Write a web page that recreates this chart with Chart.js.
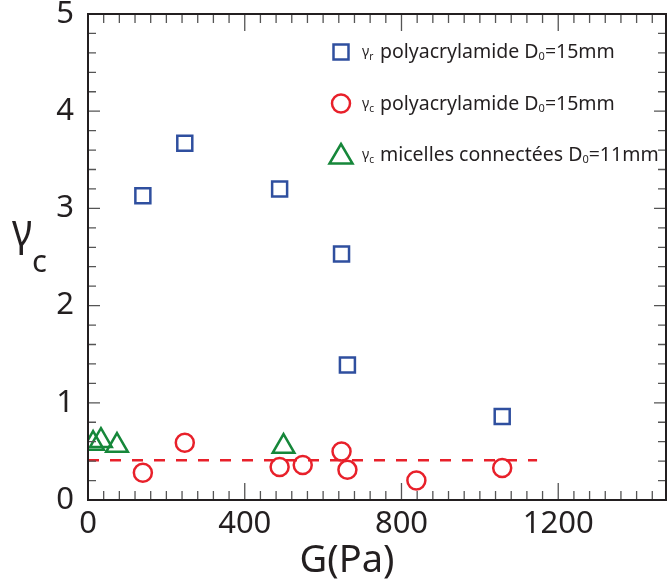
<!DOCTYPE html>
<html>
<head>
<meta charset="utf-8">
<script src="https://cdn.jsdelivr.net/npm/chart.js@4.4.0/dist/chart.umd.min.js"></script>
<style>
  html, body { margin: 0; padding: 0; background: #fff; }
  #wrap { width: 667px; height: 584px; }
</style>
</head>
<body>
<div id="wrap"><canvas id="chart" width="667" height="584"></canvas></div>
<script>
// data
const gRupture = [140, 247, 489, 647, 662, 1057];
const gammaRupture = [3.13, 3.67, 3.20, 2.53, 1.39, 0.86];

const gPolyCrit = [140, 247, 489, 548, 647, 662, 838, 1057];
const gammaPolyCrit = [0.28, 0.59, 0.34, 0.36, 0.50, 0.31, 0.20, 0.33];

const gMicelles = [13, 33, 74, 499];
const gammaMicelles = [0.58, 0.61, 0.56, 0.55];

const meanLineG = [0, 1146];
const meanLineGamma = [0.41, 0.41];

const xTicks = [0, 400, 800, 1200];
const yTicks = [0, 1, 2, 3, 4, 5];

const legendRows = [
  { sym: 'r', text: 'polyacrylamide D', sub: '0', tail: '=15mm', style: 'rect', color: '#2f4f9f' },
  { sym: 'c', text: 'polyacrylamide D', sub: '0', tail: '=15mm', style: 'circle', color: '#e8202a' },
  { sym: 'c', text: 'micelles connectées D', sub: '0', tail: '=11mm', style: 'triangle', color: '#16873a' }
];

const BLUE = '#2f4f9f', RED = '#e8202a', GREEN = '#16873a', INK = '#231f20';
const FONT = '"Noto Sans", "Open Sans", sans-serif';

function pts(xs, ys) {
  return xs.map((x, i) => ({ x: x, y: ys[i] }));
}

function noPad(scale) {
  scale.paddingLeft = 0;
  scale.paddingRight = 0;
  scale.paddingTop = 0;
  scale.paddingBottom = 0;
}

// frame with inward ticks on all four sides + extra labels
const framePlugin = {
  id: 'frame',
  afterDraw(chart) {
    const ctx = chart.ctx;
    const a = chart.chartArea;
    const xs = chart.scales.x, ys = chart.scales.y;
    ctx.save();
    ctx.strokeStyle = '#555';
    ctx.lineWidth = 1.3;
    ctx.beginPath();
    for (let v = 0; v <= xs.max; v += 40) {
      const px = xs.getPixelForValue(v);
      const len = v % 400 === 0 ? 17 : 9;
      ctx.moveTo(px, a.bottom); ctx.lineTo(px, a.bottom - len);
      ctx.moveTo(px, a.top); ctx.lineTo(px, a.top + len);
    }
    for (let k = 0; k <= 25; k++) {
      const v = k * 0.2;
      const py = ys.getPixelForValue(v);
      const len = k % 5 === 0 ? 12 : 8;
      ctx.moveTo(a.left, py); ctx.lineTo(a.left + len, py);
      ctx.moveTo(a.right, py); ctx.lineTo(a.right - len, py);
    }
    ctx.stroke();
    ctx.strokeStyle = INK;
    ctx.lineWidth = 2;
    ctx.strokeRect(a.left, a.top, a.right - a.left, a.bottom - a.top);

    // axis titles
    ctx.fillStyle = INK;
    ctx.textBaseline = 'alphabetic';
    ctx.textAlign = 'left';
    ctx.save();
    ctx.translate(12, 246);
    ctx.scale(0.85, 1);
    ctx.font = '46px ' + FONT;
    ctx.fillText('γ', 0, 0);
    ctx.restore();
    ctx.font = '31px ' + FONT;
    ctx.fillText('c', 32, 272);
    ctx.font = '38px ' + FONT;
    ctx.textAlign = 'center';
    ctx.fillText('G(Pa)', 347, 572);

    // legend
    legendRows.forEach((row, i) => {
      const cy = 52 + i * 51.5;
      const cx = 341;
      ctx.strokeStyle = row.color;
      ctx.lineWidth = 2.5;
      ctx.beginPath();
      if (row.style === 'rect') {
        ctx.rect(cx - 7.5, cy - 7.5, 15, 15);
      } else if (row.style === 'circle') {
        ctx.arc(cx, cy, 9, 0, Math.PI * 2);
      } else {
        ctx.moveTo(cx, cy - 11);
        ctx.lineTo(cx + 11.5, cy + 8.5);
        ctx.lineTo(cx - 11.5, cy + 8.5);
        ctx.closePath();
      }
      ctx.stroke();

      ctx.fillStyle = INK;
      ctx.textAlign = 'left';
      let tx = 362;
      const base = cy + 6;
      ctx.font = '14px ' + FONT;
      ctx.fillText('γ', tx, base - 2);
      tx += ctx.measureText('γ').width;
      ctx.font = '10px ' + FONT;
      ctx.fillText(row.sym, tx, base + 2);
      tx = 380;
      ctx.font = '19.5px ' + FONT;
      ctx.fillText(row.text, tx, base);
      tx += ctx.measureText(row.text).width;
      ctx.font = '11px ' + FONT;
      ctx.fillText(row.sub, tx, base + 2);
      tx += ctx.measureText(row.sub).width;
      ctx.font = '19.5px ' + FONT;
      ctx.fillText(row.tail, tx, base);
    });
    ctx.restore();
  }
};

new Chart(document.getElementById('chart'), {
  type: 'scatter',
  data: {
    datasets: [
      {
        label: 'mean',
        type: 'line',
        data: pts(meanLineG, meanLineGamma),
        borderColor: RED,
        borderWidth: 2.5,
        borderDash: [11, 11],
        pointRadius: 0,
        fill: false
      },
      {
        label: 'rupture polyacrylamide',
        data: pts(gRupture, gammaRupture),
        pointStyle: 'rect',
        pointRadius: 10.6,
        pointBorderWidth: 2.5,
        borderColor: BLUE,
        backgroundColor: 'rgba(0,0,0,0)'
      },
      {
        label: 'critical polyacrylamide',
        data: pts(gPolyCrit, gammaPolyCrit),
        pointStyle: 'circle',
        pointRadius: 9,
        pointBorderWidth: 2.5,
        borderColor: RED,
        backgroundColor: 'rgba(0,0,0,0)'
      },
      {
        label: 'micelles',
        data: pts(gMicelles, gammaMicelles),
        pointStyle: 'triangle',
        pointRadius: 12.5,
        pointBorderWidth: 2.5,
        borderColor: GREEN,
        backgroundColor: 'rgba(0,0,0,0)'
      }
    ]
  },
  options: {
    responsive: false,
    animation: false,
    layout: { autoPadding: false, padding: { top: 14, right: 1, left: 0, bottom: 0 } },
    plugins: {
      legend: { display: false },
      tooltip: { enabled: false }
    },
    scales: {
      x: {
        type: 'linear',
        min: 0,
        max: 1475,
        afterFit(scale) { scale.height = 84; noPad(scale); },
        afterBuildTicks(scale) { scale.ticks = xTicks.map(v => ({ value: v })); },
        grid: { display: false, drawTicks: false },
        border: { display: false },
        ticks: {
          color: INK,
          padding: 6,
          font: { family: FONT, size: 31 },
          callback: v => String(v)
        }
      },
      y: {
        type: 'linear',
        min: 0,
        max: 5,
        afterFit(scale) { scale.width = 88; noPad(scale); },
        afterBuildTicks(scale) { scale.ticks = yTicks.map(v => ({ value: v })); },
        grid: { display: false, drawTicks: false },
        border: { display: false },
        ticks: {
          color: INK,
          padding: 14,
          font: { family: FONT, size: 31 },
          callback: v => String(v)
        }
      }
    }
  },
  plugins: [framePlugin]
});
</script>
</body>
</html>
